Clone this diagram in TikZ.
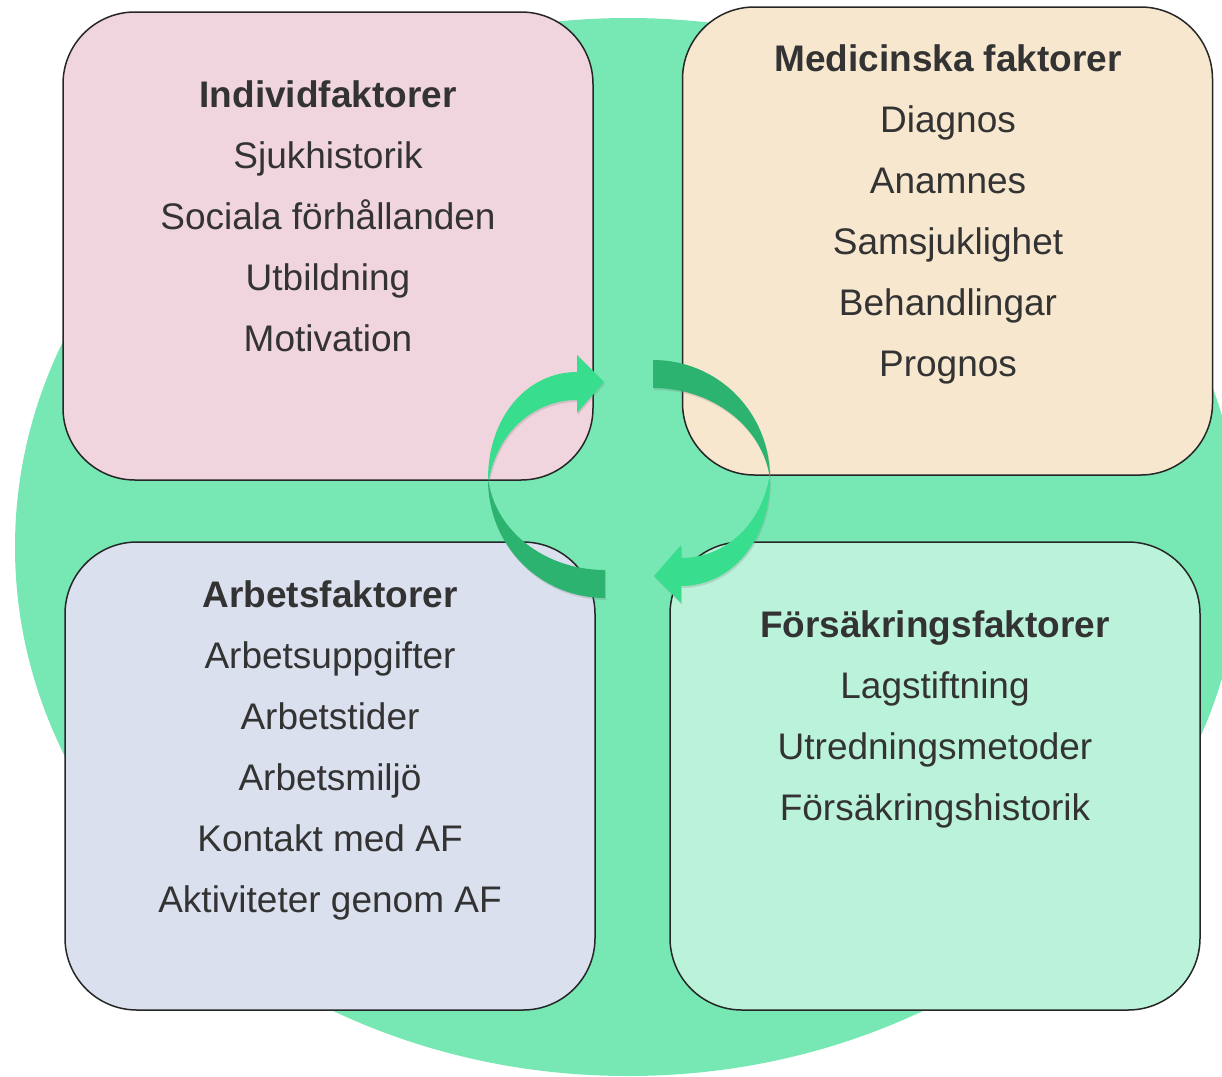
\documentclass[tikz,border=0pt]{standalone}
\usepackage{fontspec}
\setmainfont{Liberation Sans}
\usepackage{tikz}
\usetikzlibrary{shadows}

\definecolor{circlegreen}{RGB}{119,232,180}
\definecolor{indcol}{RGB}{241,213,222}
\definecolor{medcol}{RGB}{247,231,206}
\definecolor{arbcol}{RGB}{218,224,238}
\definecolor{forcol}{RGB}{187,243,218}
\definecolor{arrowlight}{RGB}{56,222,141}
\definecolor{arrowdark}{RGB}{45,179,112}
\definecolor{textgray}{RGB}{51,51,51}

\tikzset{
    factorbox/.style={draw=black!85, line width=1.5pt, rounded corners=72pt,
        minimum width=530pt, minimum height=468pt, inner sep=0pt},
    factortitle/.style={anchor=base, inner sep=0pt, text=textgray,
        font=\fontsize{37}{44}\selectfont\bfseries},
    factoritem/.style={anchor=base, inner sep=0pt, text=textgray,
        font=\fontsize{37}{44}\selectfont},
    cyclearrow/.style={drop shadow={shadow xshift=1pt, shadow yshift=-2pt, opacity=0.25}},
}

\begin{document}
\begin{tikzpicture}[x=1pt, y=-1pt]
    \useasboundingbox (0,0) rectangle (1222,1076);
    \clip (0,0) rectangle (1222,1076);

    \fill[circlegreen] (628,547) ellipse [x radius=613pt, y radius=529pt];

    \node[factorbox, fill=indcol] (ind) at (328,246) {};
    \node[factorbox, fill=medcol] (med) at (947.5,241) {};
    \node[factorbox, fill=arbcol] (arb) at (330,776) {};
    \node[factorbox, fill=forcol] (for) at (935,776) {};

    \node[factortitle] (ind-title) at (328,107.5) {Individfaktorer};
    \foreach \txt [count=\i] in {Sjukhistorik, Sociala förhållanden, Utbildning, Motivation}
        \node[factoritem] (ind-\i) at (328,107.5+61*\i) {\txt};

    \node[factortitle] (med-title) at (948,71.5) {Medicinska faktorer};
    \foreach \txt [count=\i] in {Diagnos, Anamnes, Samsjuklighet, Behandlingar, Prognos}
        \node[factoritem] (med-\i) at (948,71.5+61*\i) {\txt};

    \node[factortitle] (arb-title) at (330,607.5) {Arbetsfaktorer};
    \foreach \txt [count=\i] in {Arbetsuppgifter, Arbetstider, Arbetsmiljö, Kontakt med AF, Aktiviteter genom AF}
        \node[factoritem] (arb-\i) at (330,607.5+61*\i) {\txt};

    \node[factortitle] (for-title) at (935,637.5) {Försäkringsfaktorer};
    \foreach \txt [count=\i] in {Lagstiftning, Utredningsmetoder, Försäkringshistorik}
        \node[factoritem] (for-\i) at (935,637.5+61*\i) {\txt};

    \foreach \ang in {0,180} {
        \begin{scope}[shift={(629,479)}, rotate=\ang]
            \fill[arrowdark, cyclearrow] (-141,0) .. controls (-141,68) and (-88,119) .. (-24,119)
                -- (-24,91) .. controls (-84,91) and (-134,52) .. (-141,0) -- cycle;
            \fill[arrowlight, cyclearrow] (-141,0) .. controls (-141,-62) and (-102,-107) .. (-52,-107)
                -- (-52,-124) -- (-25,-97) -- (-52,-66) -- (-52,-79)
                .. controls (-89,-79) and (-129,-54) .. (-140,0) -- cycle;
        \end{scope}
    }
\end{tikzpicture}
\end{document}
